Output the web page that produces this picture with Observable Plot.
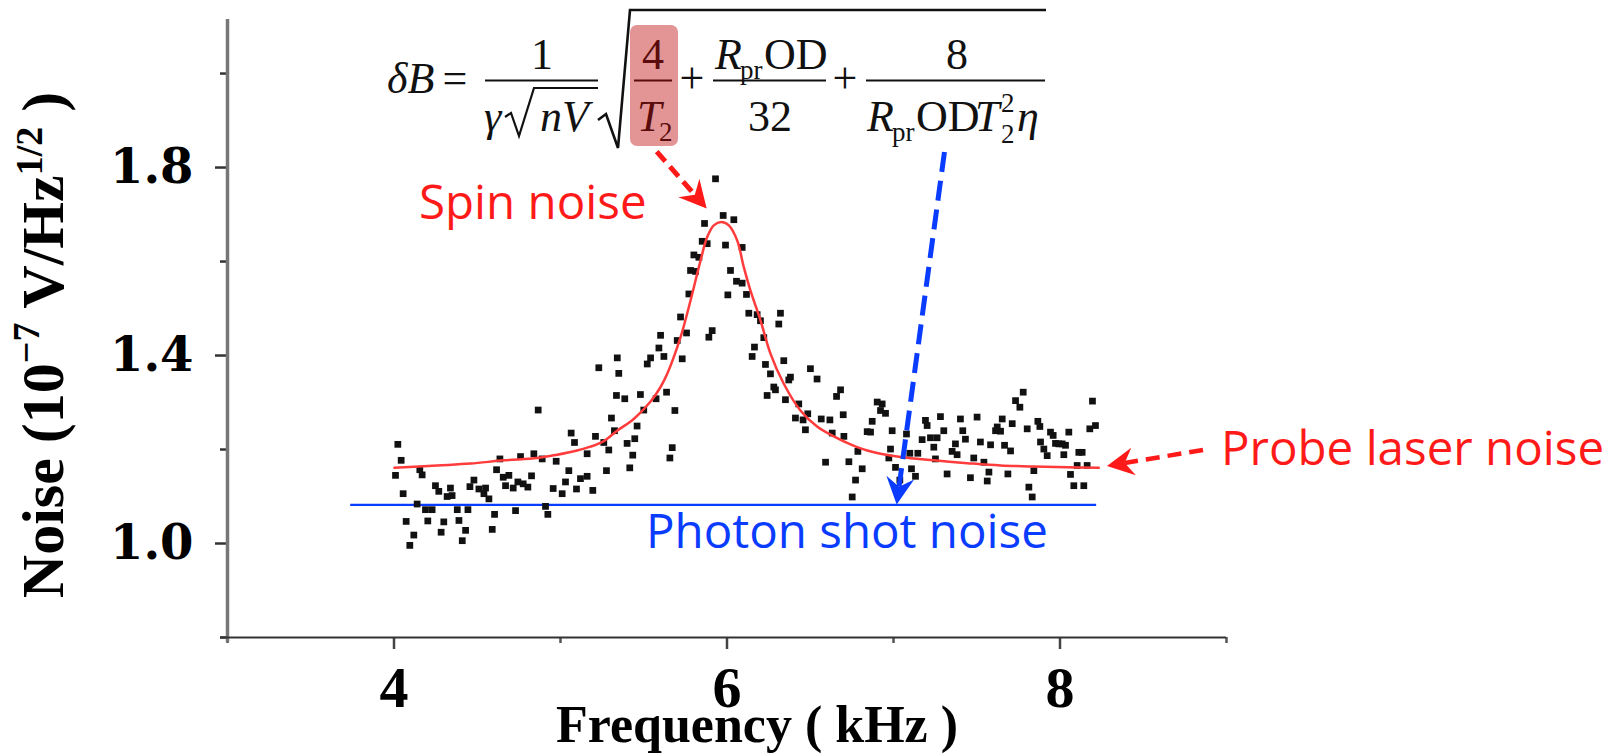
<!DOCTYPE html>
<html>
<head>
<meta charset="utf-8">
<script src="https://cdn.jsdelivr.net/npm/d3@7"></script>
<script src="https://cdn.jsdelivr.net/npm/@observablehq/plot@0.6"></script>
<style>
  html, body { margin: 0; padding: 0; background: #fff; }
  svg { display: block; }
</style>
</head>
<body>
<div id="chart"></div>
<script>
// Measured noise spectrum (frequency in kHz, noise in 1e-7 V/Hz^1/2)
const freq = [
  4.023,4.043,4.009,4.055,4.155,4.169,4.249,4.269,4.139,4.189,4.229,4.073,4.119,4.095,4.203,4.283,4.299,4.319,4.349,4.339,
  4.380,4.390,4.430,4.410,4.444,4.456,4.480,4.510,4.540,4.550,4.570,4.604,4.590,4.616,4.636,4.656,4.690,4.670,4.716,4.730,
  4.744,4.776,4.804,4.760,4.840,4.826,4.866,4.890,4.910,4.924,4.956,4.974,5.010,5.030,5.050,5.064,5.084,5.096,5.120,5.160,
  5.194,5.160,5.210,5.260,5.276,5.290,5.306,5.324,5.336,5.386,5.416,5.434,5.400,5.446,5.460,5.480,5.500,5.574,5.637,5.687,
  5.671,5.657,5.230,5.341,5.350,
  5.931,5.977,6.041,5.865,5.851,5.881,5.801,5.831,5.781,5.811,5.991,6.091,6.021,6.057,6.091,6.005,5.771,5.721,5.701,5.757,
  5.911,5.891,5.601,5.591,5.621,5.541,5.521,5.731,6.131,6.181,6.201,6.321,6.311,6.117,6.165,6.151,6.221,6.231,6.261,6.341,
  6.381,6.371,6.241,6.281,6.291,6.351,6.431,6.411,
  6.501,6.541,6.682,6.658,6.485,6.457,6.471,6.566,6.618,6.698,6.632,6.702,6.592,6.732,6.772,6.752,6.786,6.812,6.872,6.902,
  6.932,6.922,6.952,6.842,6.862,6.992,6.982,6.972,7.012,7.038,7.078,7.098,7.108,7.132,7.146,7.192,7.202,7.172,7.222,7.262,
  7.242,7.302,7.252,7.282,7.322,7.352,7.372,7.382,7.402,7.416,7.432,7.462,7.482,7.502,7.522,7.543,7.573,7.563,7.583,7.613,
  7.623,7.643,7.653,7.667,7.703,7.687,7.713,7.779,7.733,7.759,7.803,7.867,7.879,7.813,7.833,7.843,7.883,7.903,7.923,7.943,
  7.959,7.973,7.993,8.013,8.033,8.053,8.023,8.063,8.083,8.143,8.113,8.133,8.103,8.163,8.195,8.179,8.213
];
const noise = [
  1.211,1.177,1.145,1.106,1.157,1.146,1.123,1.111,1.084,1.072,1.072,1.047,1.018,0.996,1.048,1.024,1.046,1.100,1.102,1.118,
  1.072,1.049,1.028,1.006,1.072,1.121,1.135,1.116,1.106,1.118,1.095,1.062,1.030,1.157,1.180,1.141,1.145,1.123,1.118,1.070,
  1.131,1.127,1.120,1.185,1.191,1.144,1.284,1.180,1.079,1.062,1.117,1.175,1.106,1.131,1.155,1.235,1.215,1.116,1.138,1.143,
  1.113,1.191,1.228,1.215,1.155,1.199,1.267,1.240,1.315,1.308,1.161,1.188,1.213,1.223,1.250,1.317,1.284,1.308,1.322,1.283,
  1.204,1.182,1.374,1.395,1.362,
  1.776,1.698,1.689,1.681,1.643,1.638,1.614,1.609,1.581,1.579,1.635,1.630,1.581,1.558,1.554,1.529,1.531,1.482,1.432,1.448,
  1.453,1.439,1.443,1.416,1.398,1.395,1.382,1.393,1.490,1.487,1.474,1.490,1.467,1.530,1.418,1.398,1.438,1.381,1.361,1.389,
  1.354,1.348,1.315,1.333,1.327,1.306,1.297,1.267,
  1.372,1.350,1.327,1.313,1.276,1.263,1.242,1.265,1.263,1.274,1.235,1.228,1.173,1.174,1.135,1.099,1.196,1.159,1.260,1.301,
  1.297,1.283,1.277,1.238,1.237,1.240,1.201,1.182,1.162,1.135,1.233,1.192,1.159,1.143,1.192,1.262,1.251,1.221,1.225,1.225,
  1.205,1.240,1.180,1.270,1.148,1.196,1.212,1.189,1.265,1.240,1.222,1.140,1.182,1.269,1.216,1.173,1.152,1.133,1.210,1.240,
  1.248,1.239,1.265,1.209,1.197,1.148,1.255,1.322,1.304,1.290,1.244,1.260,1.249,1.120,1.099,1.155,1.216,1.201,1.187,1.237,
  1.230,1.213,1.212,1.212,1.209,1.237,1.189,1.147,1.123,1.123,1.194,1.194,1.166,1.166,1.303,1.244,1.251
];

// Lorentzian fit curve, sampled along the drawn trace
const fitFreq = [4.003,4.259,4.459,4.660,4.860,4.980,5.100,5.180,5.260,5.340,5.440,5.541,5.601,5.641,5.721,5.781,5.841,5.881,5.921,5.965,
  6.011,6.061,6.101,6.141,6.201,6.261,6.341,6.441,6.541,6.641,6.742,6.842,7.042,7.242,7.443,7.643,7.843,8.043,8.233];
const fitNoise = [1.161,1.166,1.170,1.177,1.182,1.189,1.198,1.206,1.218,1.240,1.265,1.302,1.333,1.361,1.439,1.517,1.602,1.652,1.677,1.684,
  1.677,1.645,1.588,1.538,1.475,1.404,1.340,1.283,1.249,1.228,1.211,1.198,1.184,1.177,1.171,1.166,1.164,1.162,1.161];

// Photon shot-noise floor
const shotLevel = [1.082];
const shotSpan = [3.74, 8.22];

// Axis ticks
const xTicks = [4, 6, 8];
const xMinor = [3, 5, 7, 9];
const yTicks = [1.0, 1.4, 1.8];
const yMinor = [0.8, 1.2, 1.6, 2.0];

const points = freq.map((f, i) => ({f, v: noise[i]}));
const fit = fitFreq.map((f, i) => ({f, v: fitNoise[i]}));
const floor = shotLevel.map(v => ({v, x1: shotSpan[0], x2: shotSpan[1]}));

const RED = "#ff1a1a";
const BLUE = "#0a3cff";

const plot = Plot.plot({
  width: 1612,
  height: 756,
  marginLeft: 227,
  marginRight: 386,
  marginTop: 19,
  marginBottom: 119,
  x: {domain: [3, 9], label: null},
  y: {domain: [0.8, 2.115], label: null},
  style: {background: "#fff", color: "#000"},
  marks: [
    Plot.ruleY(floor, {y: "v", x1: "x1", x2: "x2", stroke: BLUE, strokeWidth: 2.2}),
    Plot.dot(points, {x: "f", y: "v", symbol: "square", r: 3.8, fill: "#111", stroke: "none"}),
    Plot.line(fit, {x: "f", y: "v", stroke: "#ff3b3b", strokeWidth: 2.5, curve: "catmull-rom"}),
    Plot.axisX(xTicks, {tickSize: 12, tickPadding: 16, strokeWidth: 2.5, stroke: "#444",
      fontSize: 58, fontFamily: "Liberation Serif, Times New Roman, serif", fontWeight: "bold",
      tickFormat: d => String(d), label: null}),
    Plot.axisX(xMinor, {tickSize: 6, strokeWidth: 2.5, stroke: "#555", tickFormat: () => "", label: null}),
    Plot.axisY(yTicks, {tickSize: 12, tickPadding: 22, strokeWidth: 2.5, stroke: "#333",
      fontSize: 48, fontFamily: "DejaVu Serif, serif", fontWeight: "bold",
      tickFormat: d => d.toFixed(1), label: null}),
    Plot.axisY(yMinor, {tickSize: 7, strokeWidth: 2.5, stroke: "#333", tickFormat: () => "", label: null}),
    Plot.ruleX([{x: 3, y1: 0.79, y2: 2.115}], {x: "x", y1: "y1", y2: "y2", stroke: "#777", strokeWidth: 3.5}),
    Plot.ruleY([{y: 0.8, x1: 2.958, x2: 9}], {y: "y", x1: "x1", x2: "x2", stroke: "#333", strokeWidth: 2.2})
  ]
});

document.getElementById("chart").appendChild(plot);

const svg = d3.select(plot);
const sx = plot.scale("x").apply, sy = plot.scale("y").apply;

// Axis titles
const yTitle = svg.append("text")
  .attr("transform", "translate(63,345) rotate(-90)")
  .attr("text-anchor", "middle")
  .attr("font-family", "Liberation Serif, Times New Roman, serif")
  .attr("font-weight", "bold")
  .attr("font-size", 60)
  .attr("fill", "#000");
yTitle.append("tspan").text("Noise (10");
yTitle.append("tspan").attr("dy", -24).attr("font-size", 38).text("\u22127");
yTitle.append("tspan").attr("dy", 24).text(" V/Hz");
yTitle.append("tspan").attr("dy", -21).attr("font-size", 38).text("1/2");
yTitle.append("tspan").attr("dy", 21).text(" )");

svg.append("text")
  .attr("x", 757).attr("y", 742)
  .attr("text-anchor", "middle")
  .attr("font-family", "Liberation Serif, Times New Roman, serif")
  .attr("font-weight", "bold")
  .attr("font-size", 52)
  .attr("fill", "#000")
  .text("Frequency ( kHz )");

// Noise-source labels
const sans = "Open Sans, Noto Sans, sans-serif";
function label(x, y, s, color) {
  svg.append("text").attr("x", x).attr("y", y)
    .attr("text-anchor", "start")
    .attr("font-family", sans).attr("font-size", 47.5)
    .attr("fill", color).text(s);
}
label(419, 219, "Spin noise", RED);
label(1221, 465, "Probe laser noise", RED);
label(646, 548, "Photon shot noise", BLUE);

// Dashed pointer arrows with filled heads
const pointers = [
  {from: [5.581, 1.833], to: [5.881, 1.712], color: RED, width: 5, dash: "13,7"},
  {from: [7.309, 1.832], to: [7.022, 1.082], color: BLUE, width: 5, dash: "20,9"},
  {from: [8.862, 1.198], to: [8.285, 1.164], color: RED, width: 4.5, dash: "14,8"}
];
for (const p of pointers) {
  const x0 = sx(p.from[0]), y0 = sy(p.from[1]);
  const x1 = sx(p.to[0]), y1 = sy(p.to[1]);
  const len = Math.hypot(x1 - x0, y1 - y0);
  const ux = (x1 - x0) / len, uy = (y1 - y0) / len;
  const nx = -uy, ny = ux;
  const L = 27, W = 14, notch = 9;
  const bx = x1 - L * ux, by = y1 - L * uy;
  const mx = x1 - (L - notch) * ux, my = y1 - (L - notch) * uy;
  svg.append("line")
    .attr("x1", x0).attr("y1", y0).attr("x2", mx).attr("y2", my)
    .attr("stroke", p.color).attr("stroke-width", p.width)
    .attr("stroke-dasharray", p.dash);
  svg.append("path")
    .attr("d", `M${x1},${y1}L${bx + W * nx},${by + W * ny}L${mx},${my}L${bx - W * nx},${by - W * ny}Z`)
    .attr("fill", p.color);
}

// Sensitivity formula
const serif = "Liberation Serif, Times New Roman, serif";
const F = svg.append("g").attr("font-family", serif).attr("fill", "#111");
const fs = 44, sub = 27;
function txt(x, y, s, opts = {}) {
  return F.append("text").attr("x", x).attr("y", y)
    .attr("font-size", opts.size || fs)
    .attr("font-style", opts.italic ? "italic" : null)
    .attr("text-anchor", opts.anchor || "start")
    .attr("fill", opts.fill || null)
    .text(s);
}
function bar(xa, xb, y, color) {
  F.append("line").attr("x1", xa).attr("x2", xb).attr("y1", y).attr("y2", y)
    .attr("stroke", color || "#111").attr("stroke-width", 2.2);
}
// highlighted 4/T2 term
F.append("rect").attr("x", 630).attr("y", 25).attr("width", 48).attr("height", 121)
  .attr("rx", 7).attr("fill", "#e39595");
const dark = "#5a0c0c";

txt(387, 93, "\u03b4B", {italic: true});
txt(455, 93, "=", {anchor: "middle"});
txt(542, 69, "1", {anchor: "middle"});
bar(485, 598, 80.5);
txt(484, 131, "\u03b3", {italic: true});
F.append("path").attr("d", "M505,117 L511,113 L519,136 L534,88 L598,88")
  .attr("fill", "none").attr("stroke", "#111").attr("stroke-width", 2.2);
txt(540, 131, "nV", {italic: true});
F.append("path").attr("d", "M598,120 L606,114 L618,148 L630,10 L1046,10")
  .attr("fill", "none").attr("stroke", "#111").attr("stroke-width", 2.6);

txt(653, 69, "4", {anchor: "middle", fill: dark});
bar(634, 672, 80.5, dark);
txt(637, 131, "T", {italic: true, fill: dark});
txt(659, 141, "2", {size: sub, fill: dark});

txt(692, 93, "+", {anchor: "middle"});
txt(715, 69, "R", {italic: true});
txt(740, 79, "pr", {size: sub});
txt(764, 69, "OD");
bar(713, 826, 80.5);
txt(770, 131, "32", {anchor: "middle"});

txt(845, 93, "+", {anchor: "middle"});
txt(957, 69, "8", {anchor: "middle"});
bar(866, 1045, 80.5);
txt(867, 131, "R", {italic: true});
txt(892, 141, "pr", {size: sub});
txt(916, 131, "OD");
txt(975, 131, "T", {italic: true});
txt(1001, 143, "2", {size: sub});
txt(1001, 112, "2", {size: sub});
txt(1017, 131, "\u03b7", {italic: true});
</script>
</body>
</html>
